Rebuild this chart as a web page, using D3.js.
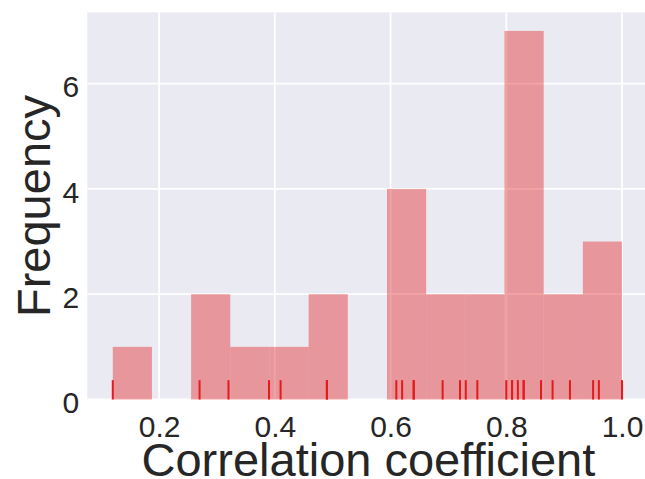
<!DOCTYPE html>
<html>
<head>
<meta charset="utf-8">
<script src="https://cdn.jsdelivr.net/npm/d3@7"></script>
<style>
  html, body { margin: 0; padding: 0; background: #ffffff; }
  svg { display: block; overflow: hidden; }
  text { font-family: "Liberation Sans", Arial, sans-serif; fill: #262626; }
</style>
</head>
<body>
<svg id="chart" width="645" height="479"></svg>
<script>
// Correlation coefficients (one per pair), shown as a histogram with a rug
const coefficients = [
  0.12, 0.27, 0.32, 0.39, 0.41, 0.49, 0.49,
  0.61, 0.62, 0.64, 0.64, 0.69, 0.72, 0.73, 0.75,
  0.80, 0.81, 0.81, 0.82, 0.83, 0.83, 0.86,
  0.88, 0.91, 0.95, 0.96, 1.00
];
const binCount = 13;
const xTickValues = [0.2, 0.4, 0.6, 0.8, 1.0];
const yTickValues = [0, 2, 4, 6];
const xTitle = "Correlation coefficient";
const yTitle = "Frequency";

const svg = d3.select("#chart");
const plot = { left: 87.3, right: 647.5, top: 12.5, bottom: 399.5 };

const lo = d3.min(coefficients), hi = d3.max(coefficients);
const step = (hi - lo) / binCount;
const bins = d3.bin()
  .domain([lo, hi])
  .thresholds(d3.range(1, binCount).map(k => lo + k * step))(coefficients);

const pad = (hi - lo) * 0.05;
const x = d3.scaleLinear().domain([lo - pad, hi + pad]).range([plot.left, plot.right]);
const y = d3.scaleLinear().domain([0, d3.max(bins, b => b.length) * 1.05]).range([plot.bottom, plot.top]);

const red = "#e41a1c";

// panel background
svg.append("rect")
  .attr("x", plot.left).attr("y", plot.top)
  .attr("width", plot.right - plot.left).attr("height", plot.bottom - plot.top)
  .attr("fill", "#eaeaf2");

// white grid
const grid = svg.append("g").attr("stroke", "#ffffff").attr("stroke-width", 1.8);
grid.selectAll("line.v").data(xTickValues).join("line")
  .attr("x1", d => x(d)).attr("x2", d => x(d))
  .attr("y1", plot.top).attr("y2", plot.bottom);
grid.selectAll("line.h").data(yTickValues).join("line")
  .attr("x1", plot.left).attr("x2", plot.right)
  .attr("y1", d => y(d)).attr("y2", d => y(d));

// histogram bars
svg.append("g").selectAll("rect").data(bins.filter(b => b.length > 0)).join("rect")
  .attr("x", b => x(b.x0))
  .attr("width", b => x(b.x1) - x(b.x0))
  .attr("y", b => y(b.length))
  .attr("height", b => y(0) - y(b.length))
  .attr("fill", red)
  .attr("fill-opacity", 0.4);

// rug ticks along the baseline
const rugH = (plot.bottom - plot.top) * 0.05;
svg.append("g").selectAll("line").data(coefficients).join("line")
  .attr("x1", d => x(d)).attr("x2", d => x(d))
  .attr("y1", y(0)).attr("y2", y(0) - rugH)
  .attr("stroke", red)
  .attr("stroke-width", 2);

// axes (labels only)
const xAxis = svg.append("g")
  .attr("transform", `translate(0,${plot.bottom})`)
  .call(d3.axisBottom(x).tickValues(xTickValues).tickFormat(d3.format(".1f")).tickSize(0).tickPadding(16));
const yAxis = svg.append("g")
  .attr("transform", `translate(${plot.left},0)`)
  .call(d3.axisLeft(y).tickValues(yTickValues).tickFormat(d3.format("d")).tickSize(0).tickPadding(8));
[xAxis, yAxis].forEach(g => {
  g.select(".domain").remove();
  g.selectAll("text").attr("font-size", 30).attr("font-family", null).attr("fill", "#262626");
});
yAxis.selectAll("text").attr("dy", "0.44em");

// axis titles
svg.append("text")
  .attr("x", (plot.left + plot.right) / 2 + 1)
  .attr("y", 476)
  .attr("text-anchor", "middle")
  .attr("font-size", 47)
  .text(xTitle);
svg.append("text")
  .attr("transform", `translate(50,${(plot.top + plot.bottom) / 2}) rotate(-90)`)
  .attr("text-anchor", "middle")
  .attr("font-size", 47)
  .text(yTitle);
</script>
</body>
</html>
